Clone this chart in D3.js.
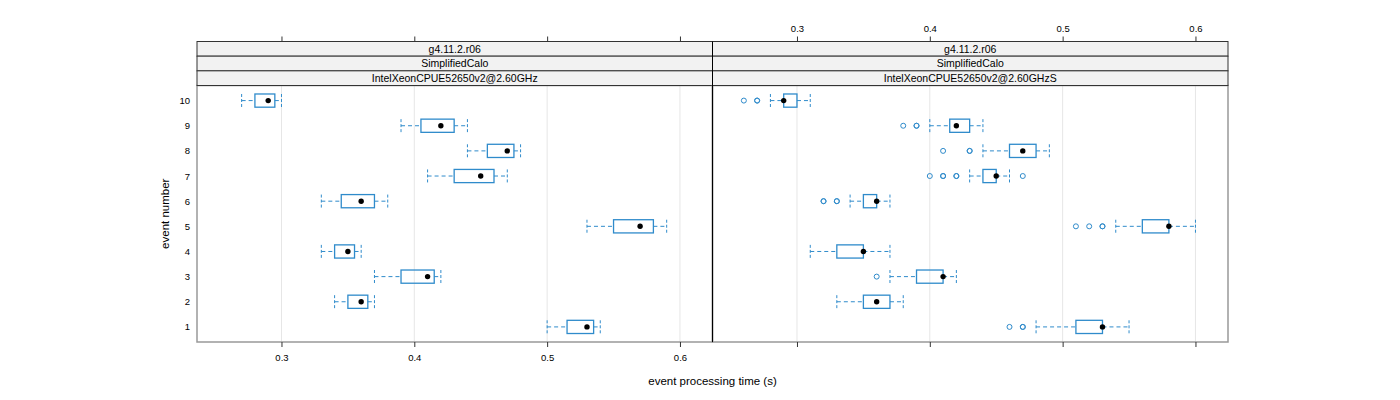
<!DOCTYPE html>
<html>
<head>
<meta charset="utf-8">
<script src="https://cdn.jsdelivr.net/npm/d3@7/dist/d3.min.js"></script>
<style>
  html, body { margin: 0; padding: 0; background: #fff; }
  svg { display: block; font-family: "Liberation Sans", Arial, Helvetica, sans-serif; }
</style>
</head>
<body>
<svg id="chart" width="1400" height="400"></svg>
<script>
// ---------------- DATA ----------------
const events = [1, 2, 3, 4, 5, 6, 7, 8, 9, 10];
const stripVersion = "g4.11.2.r06";
const stripTest = "SimplifiedCalo";
const panelNames = ["IntelXeonCPUE52650v2@2.60GHz", "IntelXeonCPUE52650v2@2.60GHzS"];
const xTicks = [0.3, 0.4, 0.5, 0.6];
const xTickLabels = ["0.3", "0.4", "0.5", "0.6"];

// left panel (per event 1..10)
const leftLo  = [0.50, 0.34, 0.37, 0.33, 0.53, 0.33, 0.41, 0.44, 0.39, 0.27];
const leftQ1  = [0.515, 0.35, 0.39, 0.34, 0.55, 0.345, 0.43, 0.455, 0.405, 0.28];
const leftMed = [0.53, 0.36, 0.41, 0.35, 0.57, 0.36, 0.45, 0.47, 0.42, 0.29];
const leftQ3  = [0.535, 0.365, 0.415, 0.355, 0.58, 0.37, 0.46, 0.475, 0.43, 0.295];
const leftHi  = [0.54, 0.37, 0.42, 0.36, 0.59, 0.38, 0.47, 0.48, 0.44, 0.30];
const leftOut = [[], [], [], [], [], [], [], [], [], []];

// right panel (per event 1..10)
const rightLo  = [0.48, 0.33, 0.37, 0.31, 0.54, 0.34, 0.43, 0.44, 0.40, 0.28];
const rightQ1  = [0.51, 0.35, 0.39, 0.33, 0.56, 0.35, 0.44, 0.46, 0.415, 0.29];
const rightMed = [0.53, 0.36, 0.41, 0.35, 0.58, 0.36, 0.45, 0.47, 0.42, 0.29];
const rightQ3  = [0.53, 0.37, 0.41, 0.35, 0.58, 0.36, 0.45, 0.48, 0.43, 0.30];
const rightHi  = [0.55, 0.38, 0.42, 0.37, 0.60, 0.37, 0.46, 0.49, 0.44, 0.31];
const rightOut = [
  [0.46, 0.47, 0.47],
  [],
  [0.36],
  [],
  [0.51, 0.52, 0.53, 0.53],
  [0.32, 0.32, 0.33, 0.33],
  [0.40, 0.41, 0.41, 0.42, 0.42, 0.47],
  [0.41, 0.43, 0.43],
  [0.38, 0.39, 0.39],
  [0.26, 0.27, 0.27]
];

// ---------------- LAYOUT ----------------
const svg = d3.select("#chart");
const panelTop = 85.5, panelBottom = 342;
const stripTop = 41.5, stripH = 14.67;
const panelsX = [[197, 712.5], [712.5, 1228]];
const boxColor = "#2f8bcb";
const xDomain = [0.2364, 0.6245];
const yDomain = [0.4, 10.6];

const panelsData = [
  {name: panelNames[0], lo: leftLo, q1: leftQ1, med: leftMed, q3: leftQ3, hi: leftHi, out: leftOut},
  {name: panelNames[1], lo: rightLo, q1: rightQ1, med: rightMed, q3: rightQ3, hi: rightHi, out: rightOut}
];

const y = d3.scaleLinear().domain(yDomain).range([panelBottom, panelTop]);
const boxHalf = 6.6;

panelsData.forEach((p, pi) => {
  const [x0, x1] = panelsX[pi];
  const x = d3.scaleLinear().domain(xDomain).range([x0, x1]);
  const g = svg.append("g");

  // grid lines
  g.selectAll("line.grid").data(xTicks).join("line")
    .attr("x1", d => x(d)).attr("x2", d => x(d))
    .attr("y1", panelTop).attr("y2", panelBottom)
    .attr("stroke", "#e6e6e6").attr("stroke-width", 1);

  // boxes
  events.forEach((ev, i) => {
    const yc = y(ev);
    // whiskers
    [[p.lo[i], p.q1[i]], [p.q3[i], p.hi[i]]].forEach(([a, b]) => {
      if (b > a) {
        g.append("line").attr("x1", x(a)).attr("x2", x(b)).attr("y1", yc).attr("y2", yc)
          .attr("stroke", boxColor).attr("stroke-width", 1).attr("stroke-dasharray", "4,3");
      }
    });
    [p.lo[i], p.hi[i]].forEach(v => {
      g.append("line").attr("x1", x(v)).attr("x2", x(v))
        .attr("y1", yc - boxHalf).attr("y2", yc + boxHalf)
        .attr("stroke", boxColor).attr("stroke-width", 1).attr("stroke-dasharray", "3,2");
    });
    // box
    g.append("rect")
      .attr("x", x(p.q1[i])).attr("y", yc - boxHalf)
      .attr("width", Math.max(0, x(p.q3[i]) - x(p.q1[i]))).attr("height", boxHalf * 2)
      .attr("fill", "none").attr("stroke", boxColor).attr("stroke-width", 1.3);
    // outliers
    p.out[i].forEach(v => {
      g.append("circle").attr("cx", x(v)).attr("cy", yc).attr("r", 2.5)
        .attr("fill", "none").attr("stroke", boxColor).attr("stroke-width", 1);
    });
    // median dot
    g.append("circle").attr("cx", x(p.med[i])).attr("cy", yc).attr("r", 2.7).attr("fill", "#000");
  });

  // panel frame
  g.append("rect").attr("x", x0).attr("y", panelTop).attr("width", x1 - x0).attr("height", panelBottom - panelTop)
    .attr("fill", "none").attr("stroke", "#999").attr("stroke-width", 1.5);

  // strips
  const strips = [stripVersion, stripTest, p.name];
  strips.forEach((s, si) => {
    const sy = stripTop + si * stripH;
    g.append("rect").attr("x", x0).attr("y", sy).attr("width", x1 - x0).attr("height", stripH)
      .attr("fill", "#f2f2f2").attr("stroke", "#333").attr("stroke-width", 1);
    g.append("text").attr("x", (x0 + x1) / 2).attr("y", sy + stripH / 2 + 3.8)
      .attr("text-anchor", "middle").attr("font-size", 10.5).attr("fill", "#000").text(s);
  });

  // top axis
  const topAxis = d3.axisTop(x).tickValues(xTicks).tickSize(5).tickSizeOuter(0)
    .tickFormat((d, k) => pi === 1 ? xTickLabels[k] : "");
  const ta = svg.append("g").attr("transform", `translate(0,${stripTop})`).call(topAxis);
  ta.select(".domain").remove();
  ta.selectAll(".tick line").attr("stroke", "#333");
  ta.selectAll(".tick text").attr("font-size", 9.5).attr("fill", "#000")
    .attr("font-family", "Liberation Sans, Arial, sans-serif").attr("dy", "-1.5");

  // bottom axis
  const botAxis = d3.axisBottom(x).tickValues(xTicks).tickSize(5).tickSizeOuter(0)
    .tickFormat((d, k) => pi === 0 ? xTickLabels[k] : "");
  const ba = svg.append("g").attr("transform", `translate(0,${panelBottom})`).call(botAxis);
  ba.select(".domain").remove();
  ba.selectAll(".tick line").attr("stroke", "#333");
  ba.selectAll(".tick text").attr("font-size", 9.5).attr("fill", "#000")
    .attr("font-family", "Liberation Sans, Arial, sans-serif").attr("dy", "1.2em");
});

// separator between panels
svg.append("line").attr("x1", 712.5).attr("x2", 712.5).attr("y1", stripTop).attr("y2", panelBottom)
  .attr("stroke", "#000").attr("stroke-width", 1);

// y-axis labels (no tick marks)
const ya = svg.append("g").attr("transform", "translate(197,0)")
  .call(d3.axisLeft(y).tickValues(events).tickSize(0).tickPadding(7).tickFormat(d3.format("d")));
ya.select(".domain").remove();
ya.selectAll(".tick text").attr("font-size", 9.5).attr("fill", "#000")
  .attr("font-family", "Liberation Sans, Arial, sans-serif");

// axis titles
svg.append("text").attr("transform", `translate(169,${(panelTop + panelBottom) / 2}) rotate(-90)`)
  .attr("text-anchor", "middle").attr("font-size", 11.5).attr("fill", "#000").text("event number");
svg.append("text").attr("x", 712.5).attr("y", 385)
  .attr("text-anchor", "middle").attr("font-size", 11.5).attr("fill", "#000").text("event processing time (s)");
</script>
</body>
</html>
